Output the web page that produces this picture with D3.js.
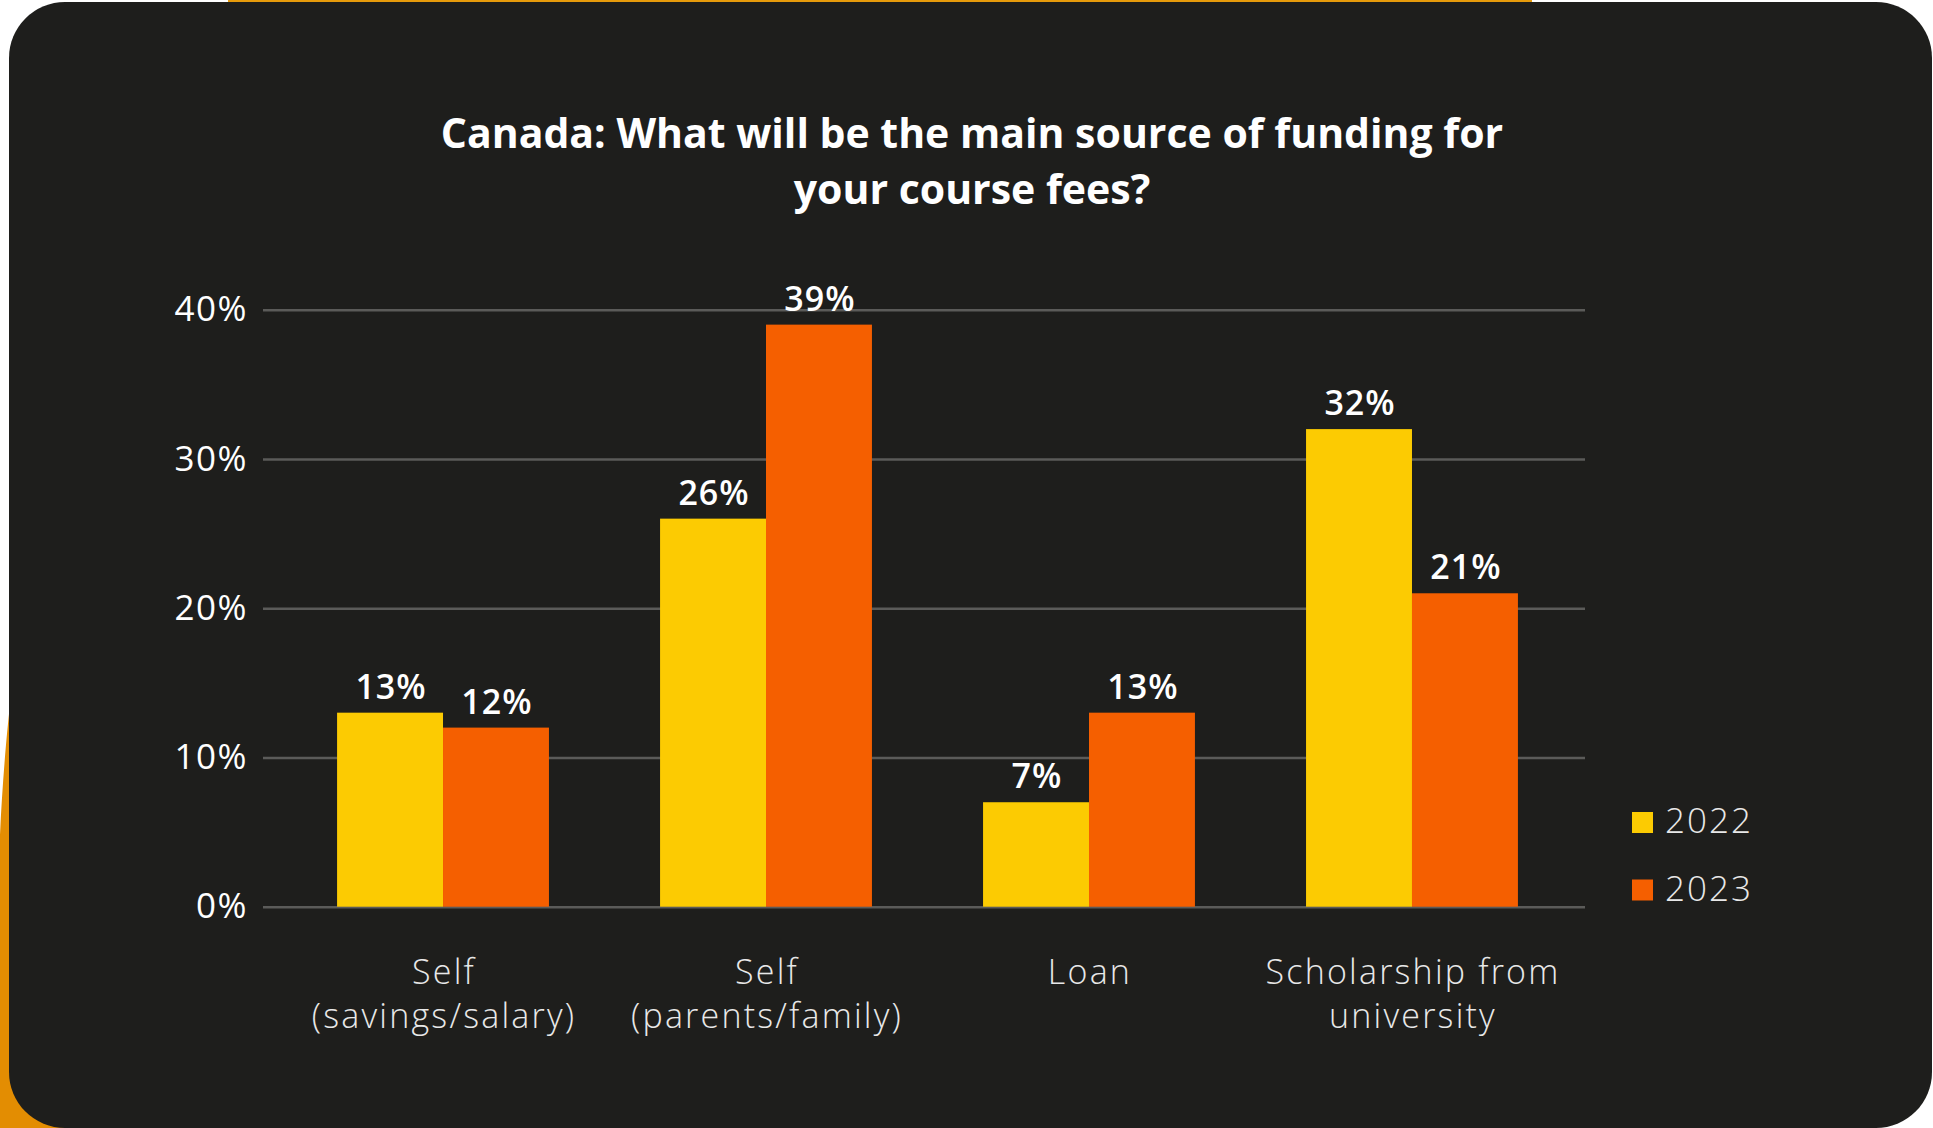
<!DOCTYPE html>
<html>
<head>
<meta charset="utf-8">
<script src="https://cdn.jsdelivr.net/npm/d3@7"></script>
<style>
  html, body { margin: 0; padding: 0; background: #ffffff; }
  svg { display: block; }
</style>
</head>
<body>
<svg id="chart" width="1933" height="1128"></svg>
<script>
// Survey data: main source of funding for course fees (Canada)
const categories = [
  ["Self", "(savings/salary)"],
  ["Self", "(parents/family)"],
  ["Loan"],
  ["Scholarship from", "university"]
];
const years = ["2022", "2023"];
const values2022 = [13, 26, 7, 32];
const values2023 = [12, 39, 13, 21];
const yTicks = [0, 10, 20, 30, 40];
const titleLines = ["Canada: What will be the main source of funding for", "your course fees?"];

const colors = { "2022": "#fccb02", "2023": "#f55f00" };
const font = "'Open Sans', Lato, sans-serif";

const svg = d3.select("#chart");

// Decorative backdrop: amber strip and side wedge behind the dark card
svg.append("rect").attr("x", 228).attr("y", 0).attr("width", 1304).attr("height", 4).attr("fill", "#e69b0b");
svg.append("path")
  .attr("d", "M10,705 C6,740 2,790 0,835 L0,1128 L120,1128 L120,1000 L10,1000 Z")
  .attr("fill", "#e38d02");

// Dark card
const cx0 = 9, cy0 = 2, cx1 = 1932, cy1 = 1128, r = 56;
svg.append("path")
  .attr("d", `M${cx0 + r},${cy0} L${cx1 - r},${cy0} A${r},${r} 0 0 1 ${cx1},${cy0 + r}
              L${cx1},${cy1 - r} A${r},${r} 0 0 1 ${cx1 - r},${cy1}
              L${cx0 + r},${cy1} A${r},${r} 0 0 1 ${cx0},${cy1 - r}
              L${cx0},${cy0 + r} A${r},${r} 0 0 1 ${cx0 + r},${cy0} Z`)
  .attr("fill", "#1e1e1c");

// Title
svg.append("text")
  .attr("text-anchor", "middle")
  .attr("fill", "#ffffff")
  .attr("font-family", font)
  .attr("font-weight", 700)
  .attr("font-size", 41)
  .selectAll("tspan")
  .data(titleLines)
  .join("tspan")
  .attr("x", 972)
  .attr("y", (d, i) => 148 + i * 56)
  .text(d => d);

// Scales
const plotLeft = 263, plotRight = 1585, plotTop = 309.7, plotBottom = 906.7;
const y = d3.scaleLinear().domain([0, 40]).range([plotBottom, plotTop]);
const x0 = d3.scaleBand()
  .domain(d3.range(categories.length))
  .range([plotLeft + 3.5, plotRight + 3.5])
  .paddingInner(0.344)
  .paddingOuter(0.2185);
const x1 = d3.scaleBand().domain(years).range([0, x0.bandwidth()]);

// Gridlines and y-axis labels
const yAxis = svg.append("g")
  .attr("transform", `translate(${plotLeft},0)`)
  .call(d3.axisLeft(y).tickValues(yTicks).tickFormat(d => d + "%")
    .tickSize(-(plotRight - plotLeft)).tickPadding(15));
yAxis.select(".domain").remove();
yAxis.selectAll(".tick line").attr("stroke", "#5b5b59").attr("stroke-width", 2.5);
yAxis.selectAll(".tick text")
  .attr("fill", "#ffffff")
  .attr("font-family", font)
  .attr("font-size", 35)
  .attr("font-weight", 500)
  .attr("letter-spacing", 1.5);

// Bars
const rows = categories.map((c, i) => ({ i, vals: [
  { year: "2022", v: values2022[i] },
  { year: "2023", v: values2023[i] }
] }));

const groups = svg.append("g").selectAll("g")
  .data(rows)
  .join("g")
  .attr("transform", d => `translate(${x0(d.i)},0)`);

groups.selectAll("rect")
  .data(d => d.vals)
  .join("rect")
  .attr("x", d => x1(d.year))
  .attr("y", d => y(d.v))
  .attr("width", x1.bandwidth())
  .attr("height", d => y(0) - y(d.v))
  .attr("fill", d => colors[d.year]);

groups.selectAll("text.val")
  .data(d => d.vals)
  .join("text")
  .attr("class", "val")
  .attr("x", d => x1(d.year) + x1.bandwidth() / 2 + 1)
  .attr("y", d => y(d.v) - 14)
  .attr("text-anchor", "middle")
  .attr("fill", "#ffffff")
  .attr("font-family", font)
  .attr("font-size", 34)
  .attr("font-weight", 600)
  .attr("letter-spacing", 1)
  .text(d => d.v + "%");

// Category labels
const xAxis = svg.append("g")
  .attr("transform", `translate(0,${plotBottom})`)
  .call(d3.axisBottom(x0).tickSize(0).tickFormat(""));
xAxis.select(".domain").remove();
xAxis.selectAll(".tick text").remove();
xAxis.selectAll(".tick")
  .append("text")
  .attr("text-anchor", "middle")
  .attr("fill", "#e8e8e8")
  .attr("font-family", font)
  .attr("font-size", 34)
  .attr("font-weight", 300)
  .attr("letter-spacing", 2.2)
  .selectAll("tspan")
  .data(i => categories[i])
  .join("tspan")
  .attr("x", 1)
  .attr("y", (d, j) => 77 + j * 44)
  .text(d => d);

// Legend
const legend = svg.append("g").selectAll("g")
  .data(years)
  .join("g")
  .attr("transform", (d, i) => `translate(1632,${812 + i * 67.5})`);
legend.append("rect")
  .attr("width", 21).attr("height", 21)
  .attr("fill", d => colors[d]);
legend.append("text")
  .attr("x", 33).attr("y", 21)
  .attr("fill", "#e8e8e8")
  .attr("font-family", font)
  .attr("font-size", 35)
  .attr("font-weight", 300)
  .attr("letter-spacing", 2)
  .text(d => d);
</script>
</body>
</html>
